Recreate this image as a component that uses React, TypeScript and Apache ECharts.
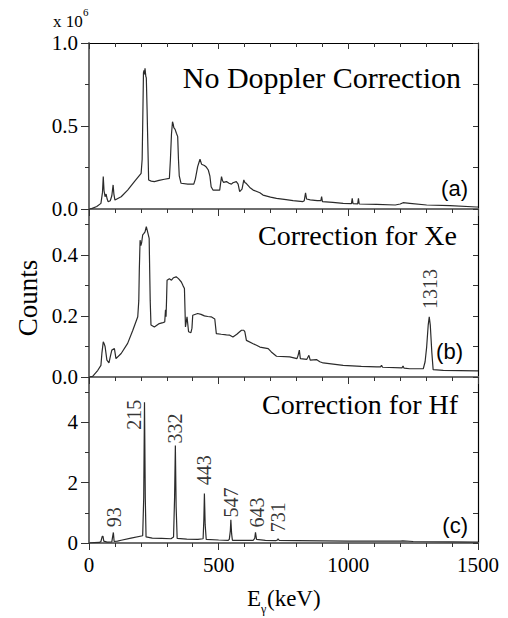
import React, { useEffect, useRef } from "react";
import * as echarts from "echarts";

// ---------- data ----------
const energyMin = 0;
const energyMax = 1500;
const energyMajorStep = 500;

const panelTitles = ["No Doppler Correction", "Correction for Xe", "Correction for Hf"];
const panelTags = ["(a)", "(b)", "(c)"];

const yMaxValues = [1.0, 0.55, 5.5];
const yMajorTicks = [
  [0, 0.5, 1.0],
  [0, 0.2, 0.4],
  [0, 2, 4],
];
const yMinorTicks = [
  [0.25, 0.75],
  [0.1, 0.3, 0.5],
  [1, 3, 5],
];
const yLabelDecimals = [1, 1, 0];

// (a) no Doppler correction, counts x 10^6
const spectrumNoCorrection: [number, number][] = [
  [0, 0], [10, 0.002], [30, 0.015], [46, 0.034], [52, 0.1], [55, 0.195], [58, 0.11], [62, 0.074],
  [66, 0.09], [70, 0.06], [74, 0.044], [82, 0.05], [88, 0.08], [93, 0.145], [96, 0.09], [100, 0.054],
  [124, 0.074], [149, 0.114], [175, 0.165], [201, 0.215], [205, 0.3], [207, 0.5], [210, 0.82],
  [212, 0.835], [214, 0.81], [216, 0.847], [219, 0.8], [221, 0.79], [224, 0.6], [226, 0.45],
  [230, 0.175], [240, 0.168], [252, 0.165], [270, 0.172], [291, 0.179], [310, 0.185], [314, 0.3],
  [318, 0.45], [322, 0.526], [325, 0.51], [327, 0.49], [332, 0.48], [337, 0.456], [342, 0.436],
  [345, 0.3], [348, 0.2], [355, 0.155], [381, 0.15], [404, 0.15], [410, 0.18], [419, 0.255],
  [424, 0.28], [428, 0.3], [434, 0.27], [445, 0.262], [451, 0.255], [460, 0.235], [466, 0.2],
  [471, 0.134], [478, 0.114], [490, 0.114], [504, 0.114], [507, 0.15], [511, 0.195], [515, 0.17],
  [519, 0.16], [530, 0.165], [540, 0.155], [549, 0.15], [555, 0.158], [568, 0.165], [575, 0.15],
  [581, 0.105], [590, 0.12], [597, 0.175], [601, 0.16], [607, 0.153], [620, 0.13], [633, 0.114],
  [659, 0.098], [671, 0.084], [700, 0.072], [723, 0.064], [760, 0.056], [787, 0.05], [825, 0.045],
  [830, 0.05], [835, 0.098], [839, 0.06], [853, 0.055], [880, 0.05], [894, 0.05], [897, 0.074],
  [900, 0.045], [940, 0.04], [980, 0.034], [1012, 0.032], [1015, 0.064], [1018, 0.032],
  [1036, 0.031], [1039, 0.064], [1042, 0.03], [1109, 0.028], [1181, 0.024], [1200, 0.03],
  [1211, 0.038], [1237, 0.034], [1302, 0.024], [1392, 0.02], [1495, 0.012], [1500, 0.012],
];

// (b) correction for Xe
const spectrumXe: [number, number][] = [
  [0, 0], [14, 0.002], [34, 0.022], [46, 0.038], [50, 0.08], [55, 0.115], [58, 0.11], [62, 0.1],
  [69, 0.055], [77, 0.046], [83, 0.07], [88, 0.088], [98, 0.093], [104, 0.06], [124, 0.077],
  [149, 0.11], [169, 0.153], [188, 0.197], [192, 0.25], [194, 0.35], [197, 0.448], [200, 0.43],
  [203, 0.44], [207, 0.465], [212, 0.47], [216, 0.475], [221, 0.492], [226, 0.475], [232, 0.454],
  [234, 0.35], [236, 0.25], [239, 0.17], [252, 0.164], [271, 0.175], [285, 0.178], [292, 0.18],
  [295, 0.22], [297, 0.197], [299, 0.25], [301, 0.317], [310, 0.322], [318, 0.317], [326, 0.325],
  [336, 0.328], [345, 0.322], [356, 0.311], [362, 0.3], [368, 0.29], [372, 0.164], [378, 0.197],
  [384, 0.148], [393, 0.145], [397, 0.16], [400, 0.202], [419, 0.208], [432, 0.205], [445, 0.2],
  [458, 0.198], [471, 0.197], [485, 0.19], [491, 0.142], [510, 0.14], [530, 0.138], [543, 0.137],
  [555, 0.131], [570, 0.14], [581, 0.148], [588, 0.153], [597, 0.153], [601, 0.148], [607, 0.12],
  [633, 0.109], [646, 0.104], [659, 0.098], [691, 0.093], [703, 0.082], [723, 0.068], [774, 0.066],
  [802, 0.06], [806, 0.07], [811, 0.088], [815, 0.06], [840, 0.058], [848, 0.071], [853, 0.055],
  [877, 0.057], [890, 0.05], [903, 0.046], [980, 0.038], [1050, 0.035], [1109, 0.033],
  [1124, 0.033], [1128, 0.038], [1132, 0.032], [1207, 0.03], [1211, 0.036], [1215, 0.029],
  [1237, 0.027], [1289, 0.027], [1296, 0.05], [1302, 0.098], [1308, 0.17], [1312, 0.197],
  [1316, 0.17], [1322, 0.08], [1327, 0.024], [1366, 0.022], [1495, 0.02], [1500, 0.02],
];

// (c) correction for Hf
const spectrumHf: [number, number][] = [
  [0, 0], [20, 0.01], [40, 0.02], [46, 0.05], [51, 0.22], [54, 0.22], [57, 0.06], [70, 0.03],
  [88, 0.04], [91, 0.2], [94, 0.35], [97, 0.05], [110, 0.06], [124, 0.09], [162, 0.16],
  [207, 0.24], [211, 1.5], [214, 4.66], [217, 1.5], [220, 0.2], [244, 0.16], [280, 0.15],
  [316, 0.14], [326, 0.2], [330, 1.5], [333, 3.23], [336, 1.2], [340, 0.15], [377, 0.13],
  [420, 0.12], [440, 0.14], [443, 0.8], [445, 1.64], [448, 0.6], [452, 0.12], [500, 0.1],
  [537, 0.09], [541, 0.12], [545, 0.4], [547, 0.77], [550, 0.3], [553, 0.09], [600, 0.09],
  [633, 0.09], [639, 0.15], [642, 0.35], [646, 0.12], [680, 0.09], [720, 0.08], [727, 0.1],
  [729, 0.14], [733, 0.09], [805, 0.08], [900, 0.07], [1000, 0.06], [1100, 0.06], [1200, 0.06],
  [1210, 0.07], [1250, 0.05], [1400, 0.04], [1500, 0.03],
];

const spectra = [spectrumNoCorrection, spectrumXe, spectrumHf];

// Peak labels (text, label anchor energy, label anchor counts)
const hfPeakTexts = ["93", "215", "332", "443", "547", "643", "731"];
const hfPeakLabelEnergy = [95, 172, 333, 445, 546, 646, 729];
const hfPeakLabelCounts = [0.85, 4.25, 3.79, 2.41, 1.34, 1.01, 0.85];
const xePeakTexts = ["1313"];
const xePeakLabelEnergy = [1313];
const xePeakLabelCounts = [0.288];

// ---------- chart ----------
const SERIF = "Liberation Serif";
const SANS = "Liberation Sans";

export default function App() {
  const ref = useRef<HTMLDivElement>(null);

  useEffect(() => {
    if (!ref.current) return;
    const chart = echarts.init(ref.current, undefined, { renderer: "svg" });

    const gridLeft = 89;
    const gridWidth = 389;
    const gridTops = [43, 209, 377];
    const gridHeights = [166, 168, 166];

    const grid = gridTops.map((t, i) => ({
      left: gridLeft,
      top: t,
      width: gridWidth,
      height: gridHeights[i],
      containLabel: false,
    }));

    const xAxis: any[] = [0, 1, 2].map((i) => ({
      type: "value",
      gridIndex: i,
      position: "bottom",
      min: energyMin,
      max: energyMax,
      interval: energyMajorStep,
      axisLine: { show: true, onZero: false, lineStyle: { color: "#6e6e6e", width: 2 } },
      axisTick: { show: true, inside: false, length: 7, lineStyle: { color: "#333", width: 1 } },
      minorTick: { show: true, splitNumber: 5, length: 4, lineStyle: { color: "#333", width: 1 } },
      axisLabel: {
        show: i === 2,
        margin: 11,
        fontFamily: SERIF,
        fontSize: 21,
        color: "#000",
        formatter: (v: number) => String(v),
      },
      splitLine: { show: false },
      minorSplitLine: { show: false },
    }));
    xAxis.push({
      type: "value",
      gridIndex: 0,
      position: "top",
      min: energyMin,
      max: energyMax,
      interval: energyMajorStep,
      axisLine: { show: true, onZero: false, lineStyle: { color: "#000", width: 1.2 } },
      axisTick: { show: true, inside: true, length: 6, lineStyle: { color: "#333" } },
      minorTick: { show: true, splitNumber: 5, length: 4, lineStyle: { color: "#333" } },
      axisLabel: { show: false },
      splitLine: { show: false },
    });

    const yAxis: any[] = [];
    [0, 1, 2].forEach((i) => {
      yAxis.push({
        type: "value",
        gridIndex: i,
        position: "left",
        min: 0,
        max: yMaxValues[i],
        axisLine: { show: true, onZero: false, lineStyle: { color: "#6e6e6e", width: 2 } },
        axisTick: {
          show: true,
          inside: false,
          length: 8,
          customValues: yMajorTicks[i],
          lineStyle: { color: "#333" },
        },
        axisLabel: {
          show: true,
          customValues: yMajorTicks[i],
          margin: 11,
          fontFamily: SERIF,
          fontSize: 21,
          color: "#000",
          formatter: (v: number) => v.toFixed(yLabelDecimals[i]),
        },
        splitLine: { show: false },
      });
      yAxis.push({
        type: "value",
        gridIndex: i,
        position: "left",
        min: 0,
        max: yMaxValues[i],
        axisLine: { show: false },
        axisTick: {
          show: true,
          inside: false,
          length: 4,
          customValues: yMinorTicks[i],
          lineStyle: { color: "#333" },
        },
        axisLabel: { show: false },
        splitLine: { show: false },
      });
      yAxis.push({
        type: "value",
        gridIndex: i,
        position: "right",
        min: 0,
        max: yMaxValues[i],
        axisLine: { show: true, onZero: false, lineStyle: { color: "#000", width: 1.2 } },
        axisTick: {
          show: true,
          inside: true,
          length: 5,
          customValues: [...yMajorTicks[i], ...yMinorTicks[i]].sort((a, b) => a - b),
          lineStyle: { color: "#333" },
        },
        axisLabel: { show: false },
        splitLine: { show: false },
      });
    });

    const series: any[] = spectra.map((d, i) => ({
      type: "line",
      xAxisIndex: i,
      yAxisIndex: 3 * i,
      data: d,
      showSymbol: false,
      symbol: "none",
      lineStyle: { color: "#2b2b2b", width: 1.2 },
      silent: true,
      z: 3,
    }));

    const peakLabelSeries = (
      texts: string[],
      energies: number[],
      counts: number[],
      panel: number
    ) => ({
      type: "scatter",
      xAxisIndex: panel,
      yAxisIndex: 3 * panel,
      symbolSize: 0,
      silent: true,
      data: texts.map((t, k) => ({ name: t, value: [energies[k], counts[k]] })),
      label: {
        show: true,
        formatter: "{b}",
        position: [0, 0],
        align: "center",
        verticalAlign: "middle",
        rotate: 90,
        fontFamily: SERIF,
        fontSize: 20,
        color: "#000",
      },
      z: 5,
    });
    series.push(peakLabelSeries(hfPeakTexts, hfPeakLabelEnergy, hfPeakLabelCounts, 2));
    series.push(peakLabelSeries(xePeakTexts, xePeakLabelEnergy, xePeakLabelCounts, 1));

    const titleRight = [461, 457, 458];
    const titleY = [77, 235, 404];
    const titleSize = [30, 28, 28];
    const tagRight = [468, 463, 468];
    const tagY = [188, 351.5, 525];

    const graphic: any[] = [];
    panelTitles.forEach((t, i) => {
      graphic.push({
        type: "text",
        x: titleRight[i],
        y: titleY[i],
        silent: true,
        style: {
          text: t,
          fontFamily: SERIF,
          fontSize: titleSize[i],
          fill: "#000",
          textAlign: "right",
          textVerticalAlign: "middle",
        },
      });
      graphic.push({
        type: "text",
        x: tagRight[i],
        y: tagY[i],
        silent: true,
        style: {
          text: panelTags[i],
          fontFamily: SANS,
          fontSize: 22,
          fill: "#000",
          textAlign: "right",
          textVerticalAlign: "middle",
        },
      });
    });
    graphic.push(
      {
        type: "text",
        x: 53,
        y: 21,
        silent: true,
        style: { text: "x 10", fontFamily: SERIF, fontSize: 17, fill: "#000", textAlign: "left", textVerticalAlign: "middle" },
      },
      {
        type: "text",
        x: 83,
        y: 12,
        silent: true,
        style: { text: "6", fontFamily: SERIF, fontSize: 11, fill: "#000", textAlign: "left", textVerticalAlign: "middle" },
      },
      {
        type: "text",
        x: 28,
        y: 298,
        rotation: Math.PI / 2,
        silent: true,
        style: { text: "Counts", fontFamily: SERIF, fontSize: 27, fill: "#000", textAlign: "center", textVerticalAlign: "middle" },
      },
      {
        type: "text",
        x: 247,
        y: 598,
        silent: true,
        style: { text: "E", fontFamily: SERIF, fontSize: 23, fill: "#000", textAlign: "left", textVerticalAlign: "middle" },
      },
      {
        type: "text",
        x: 261,
        y: 609,
        silent: true,
        style: { text: "γ", fontFamily: SERIF, fontSize: 12, fill: "#000", textAlign: "left", textVerticalAlign: "middle" },
      },
      {
        type: "text",
        x: 267,
        y: 598,
        silent: true,
        style: { text: "(keV)", fontFamily: SERIF, fontSize: 23, fill: "#000", textAlign: "left", textVerticalAlign: "middle" },
      }
    );

    chart.setOption({
      animation: false,
      backgroundColor: "#fff",
      grid,
      xAxis,
      yAxis,
      series,
      graphic,
    });

    return () => chart.dispose();
  }, []);

  return (
    <div
      ref={ref}
      style={{ position: "absolute", left: 0, top: 0, width: 508, height: 618 }}
    />
  );
}
